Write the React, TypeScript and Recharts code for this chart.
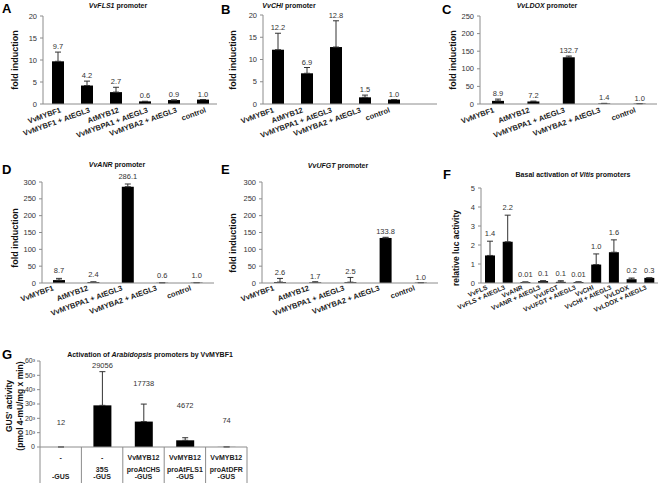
import React from 'react';
import { BarChart, Bar, XAxis, YAxis, ErrorBar, LabelList } from 'recharts';

const FONT = '"Liberation Sans", Arial, Helvetica, sans-serif';
const AXIS = '#8c8c8c';
const INK = '#333';

const promoterCats = ['VvMYBF1', 'AtMYB12', 'VvMYBPA1 + AtEGL3', 'VvMYBA2 + AtEGL3', 'control'];
const foldTicks20 = [0, 5, 10, 15, 20];
const foldTicks250 = [0, 50, 100, 150, 200, 250];
const foldTicks300 = [0, 50, 100, 150, 200, 250, 300];

// A - VvFLS1 promoter
const flsCats = ['VvMYBF1', 'VvMYBF1 + AtEGL3', 'AtMYB12', 'VvMYBPA1 + AtEGL3', 'VvMYBA2 + AtEGL3', 'control'];
const flsValues = [9.7, 4.2, 2.7, 0.6, 0.9, 1.0];
const flsErrors = [2.1, 1.0, 1.1, 0, 0, 0];
const flsLabels = ['9.7', '4.2', '2.7', '0.6', '0.9', '1.0'];

// B - VvCHI promoter
const chiValues = [12.2, 6.9, 12.8, 1.5, 1.0];
const chiErrors = [3.7, 1.3, 5.9, 0.5, 0];
const chiLabels = ['12.2', '6.9', '12.8', '1.5', '1.0'];

// C - VvLDOX promoter
const ldoxValues = [8.9, 7.2, 132.7, 1.4, 1.0];
const ldoxErrors = [5, 1, 3.5, 0.5, 0];
const ldoxLabels = ['8.9', '7.2', '132.7', '1.4', '1.0'];

// D - VvANR promoter
const anrValues = [8.7, 2.4, 286.1, 0.6, 1.0];
const anrErrors = [5, 1, 8, 0.3, 0];
const anrLabels = ['8.7', '2.4', '286.1', '0.6', '1.0'];

// E - VvUFGT promoter
const ufgtValues = [2.6, 1.7, 2.5, 133.8, 1.0];
const ufgtErrors = [11, 2, 14, 2, 0];
const ufgtLabels = ['2.6', '1.7', '2.5', '133.8', '1.0'];

// F - basal activation
const basalCats = ['VvFLS', 'VvFLS + AtEGL3', 'VvANR', 'VvANR + AtEGL3', 'VvUFGT', 'VvUFGT + AtEGL3', 'VvCHI', 'VvCHI + AtEGL3', 'VvLDOX', 'VvLDOX + AtEGL3'];
const basalValues = [1.45, 2.17, 0.05, 0.1, 0.06, 0.05, 0.97, 1.62, 0.2, 0.27];
const basalErrors = [0.75, 1.4, 0, 0.02, 0.06, 0.01, 0.56, 0.65, 0.06, 0];
const basalLabels = ['1.4', '2.2', '0.01', '0.1', '0.1', '0.01', '1.0', '1.6', '0.2', '0.3'];
const basalTicks = [0, 1, 2, 3, 4, 5];

// G - GUS activity
const gusCats = ['a', 'b', 'c', 'd', 'e'];
const gusValues = [12, 29056, 17738, 4672, 74];
const gusErrors = [0, 23500, 12200, 1800, 0];
const gusLabels = ['12', '29056', '17738', '4672', '74'];
const gusLabelAt = [17500, 57000, 45000, 29500, 19000];
const gusTicks = [0, 10000, 20000, 30000, 40000, 50000, 60000];
const gusRow1 = ['-', '-', 'VvMYB12', 'VvMYB12', 'VvMYB12'];
const gusRow2 = ['', '35S', 'proAtCHS', 'proAtFLS1', 'proAtDFR'];
const gusRow3 = ['-GUS', '-GUS', '-GUS', '-GUS', '-GUS'];

const makeSlantTick = (dx: number, dy: number, angle = 20, size = 7.5) => (props: any) => {
  const { x, y, payload } = props;
  const tx = x + dx;
  const ty = y + dy;
  return (
    <text x={tx} y={ty} transform={`rotate(${-angle}, ${tx}, ${ty})`} textAnchor="end"
      fontSize={size} fontWeight="bold" fill="#222" fontFamily={FONT}>
      {payload.value}
    </text>
  );
};

const makeTableTick = (bw: number) => (props: any) => {
  const { x, y, index } = props;
  const last = index === gusCats.length - 1;
  const t = { textAnchor: 'middle' as const, fontSize: 7, fontWeight: 'bold', fill: '#222', fontFamily: FONT };
  return (
    <g>
      <line x1={x - bw / 2} y1={y} x2={x - bw / 2} y2={y + 40} stroke={AXIS} />
      {last && <line x1={x + bw / 2} y1={y} x2={x + bw / 2} y2={y + 40} stroke={AXIS} />}
      <text x={x} y={y + 13} {...t}>{gusRow1[index]}</text>
      <text x={x} y={y + 25} {...t}>{gusRow2[index]}</text>
      <text x={x} y={y + 32} {...t}>{gusRow3[index]}</text>
    </g>
  );
};

type PanelProps = {
  left: number; top: number; width: number; height: number;
  categories: string[]; values: number[]; errors: number[]; labels: string[];
  ticks: number[]; yWidth: number; mTop: number; mRight: number; xHeight: number;
  barSize: number; padRight?: number; gap?: number; labelAt?: number[];
  tick: any; tickFormatter?: (v: number) => string; yTickSize?: number; yTickMargin?: number;
};

const Panel = (p: PanelProps) => {
  const data = p.categories.map((name, i) => ({ name, v: p.values[i], err: [0, p.errors[i]] }));
  const max = p.ticks[p.ticks.length - 1];
  const k = (p.height - p.mTop - p.xHeight) / max;
  const gap = p.gap ?? 3;
  const renderLabel = (props: any) => {
    const vb = props.viewBox || {};
    const x = Number(vb.x ?? props.x);
    const y = Number(vb.y ?? props.y);
    const w = Number(vb.width ?? props.width);
    const h = Number(vb.height ?? props.height);
    const i = props.index;
    const ty = p.labelAt ? y + h - p.labelAt[i] * k + 3 : y - p.errors[i] * k - gap;
    return (
      <text x={x + w / 2} y={ty} textAnchor="middle" fontSize={7.5} fill={INK} fontFamily={FONT}>
        {p.labels[i]}
      </text>
    );
  };
  return (
    <div style={{ position: 'absolute', left: p.left, top: p.top }}>
      <BarChart width={p.width} height={p.height} data={data} barCategoryGap={0}
        margin={{ top: p.mTop, right: p.mRight, left: 0, bottom: 0 }}>
        <XAxis dataKey="name" interval={0} height={p.xHeight} tickLine={false} tickSize={0} tickMargin={0}
          tick={p.tick} axisLine={{ stroke: AXIS }} padding={{ left: 0, right: p.padRight ?? 0 }} />
        <YAxis type="number" domain={[0, max]} ticks={p.ticks} width={p.yWidth} allowDataOverflow
          tickSize={3} tickMargin={p.yTickMargin ?? 3} axisLine={{ stroke: AXIS }} tickLine={{ stroke: AXIS }}
          tick={{ fontSize: p.yTickSize ?? 7.5, fill: INK, fontFamily: FONT }} tickFormatter={p.tickFormatter} />
        <Bar dataKey="v" fill="#000" barSize={p.barSize} isAnimationActive={false}>
          <ErrorBar dataKey="err" direction="y" width={3} stroke="#333" strokeWidth={1} isAnimationActive={false} />
          <LabelList dataKey="v" content={renderLabel} />
        </Bar>
      </BarChart>
    </div>
  );
};

const foldLabel = (x: number, y: number, text: string, size = 9) => (
  <text x={x} y={y} transform={`rotate(-90, ${x}, ${y})`} textAnchor="middle" fontSize={size} fontWeight="bold" fill="#111">
    {text}
  </text>
);

export default function App() {
  return (
    <div style={{ position: 'absolute', left: 0, top: 0, width: 662, height: 483, background: '#fff', fontFamily: FONT, overflow: 'hidden' }}>
      <Panel left={0} top={0} width={220} height={160} categories={flsCats} values={flsValues} errors={flsErrors}
        labels={flsLabels} ticks={foldTicks20} yWidth={43} mTop={16} mRight={3} xHeight={56} barSize={12}
        tick={makeSlantTick(4, 8)} />
      <Panel left={220} top={0} width={220} height={160} categories={promoterCats} values={chiValues} errors={chiErrors}
        labels={chiLabels} ticks={foldTicks20} yWidth={43} mTop={15} mRight={3} xHeight={56} barSize={12} padRight={29}
        tick={makeSlantTick(-3, 8)} />
      <Panel left={440} top={0} width={222} height={160} categories={promoterCats} values={ldoxValues} errors={ldoxErrors}
        labels={ldoxLabels} ticks={foldTicks250} yWidth={40} mTop={16} mRight={5} xHeight={56} barSize={12}
        tick={makeSlantTick(-3, 8)} />
      <Panel left={0} top={160} width={220} height={160} categories={promoterCats} values={anrValues} errors={anrErrors}
        labels={anrLabels} ticks={foldTicks300} yWidth={42} mTop={22} mRight={6} xHeight={37} barSize={12} gap={5}
        tick={makeSlantTick(-5, 7)} />
      <Panel left={220} top={160} width={220} height={160} categories={promoterCats} values={ufgtValues} errors={ufgtErrors}
        labels={ufgtLabels} ticks={foldTicks300} yWidth={42} mTop={22} mRight={2} xHeight={37} barSize={12}
        tick={makeSlantTick(-5, 7)} />
      <Panel left={440} top={160} width={222} height={160} categories={basalCats} values={basalValues} errors={basalErrors}
        labels={basalLabels} ticks={basalTicks} yWidth={41} mTop={28} mRight={4} xHeight={37} barSize={10} gap={5}
        tick={makeSlantTick(-2, 6, 24, 6.5)} />
      <Panel left={0} top={340} width={250} height={143} categories={gusCats} values={gusValues} errors={gusErrors}
        labels={gusLabels} labelAt={gusLabelAt} ticks={gusTicks} yWidth={40} mTop={21} mRight={3} xHeight={36} barSize={18}
        yTickSize={7} yTickMargin={2}
        tick={makeTableTick(207 / 5)} tickFormatter={(v: number) => (v === 0 ? '0' : `${v / 1000}\u00B3`)} />

      <svg width={662} height={483} style={{ position: 'absolute', left: 0, top: 0, pointerEvents: 'none' }} fontFamily={FONT}>
        <g fontSize={13} fontWeight="bold" fill="#000">
          <text x={2} y={13}>A</text>
          <text x={221} y={14}>B</text>
          <text x={442} y={14}>C</text>
          <text x={2} y={174}>D</text>
          <text x={221} y={174}>E</text>
          <text x={443} y={179}>F</text>
          <text x={2} y={359}>G</text>
        </g>
        <g fontSize={7} fontWeight="bold" fill="#111" textAnchor="middle">
          <text x={118} y={8}><tspan fontStyle="italic">VvFLS1</tspan>{' promoter'}</text>
          <text x={289} y={8}><tspan fontStyle="italic">VvCHI</tspan>{' promoter'}</text>
          <text x={547} y={8}><tspan fontStyle="italic">VvLDOX</tspan>{' promoter'}</text>
          <text x={117} y={167}><tspan fontStyle="italic">VvANR</tspan>{' promoter'}</text>
          <text x={338} y={168}><tspan fontStyle="italic">VvUFGT</tspan>{' promoter'}</text>
          <text x={573} y={177}>{'Basal activation of '}<tspan fontStyle="italic">Vitis</tspan>{' promoters'}</text>
          <text x={150} y={357}>{'Activation of '}<tspan fontStyle="italic">Arabidopsis</tspan>{' promoters by VvMYBF1'}</text>
        </g>
        {foldLabel(18, 60, 'fold induction')}
        {foldLabel(236, 60, 'fold induction')}
        {foldLabel(456, 60, 'fold induction')}
        {foldLabel(18, 238, 'fold induction')}
        {foldLabel(236, 243, 'fold induction')}
        {foldLabel(459, 248, 'relative luc activity', 8.5)}
        {foldLabel(12, 406, "GUS' activity", 8.5)}
        {foldLabel(23, 406, '(pmol 4-mU/mg x min)', 8.5)}
      </svg>
    </div>
  );
}
